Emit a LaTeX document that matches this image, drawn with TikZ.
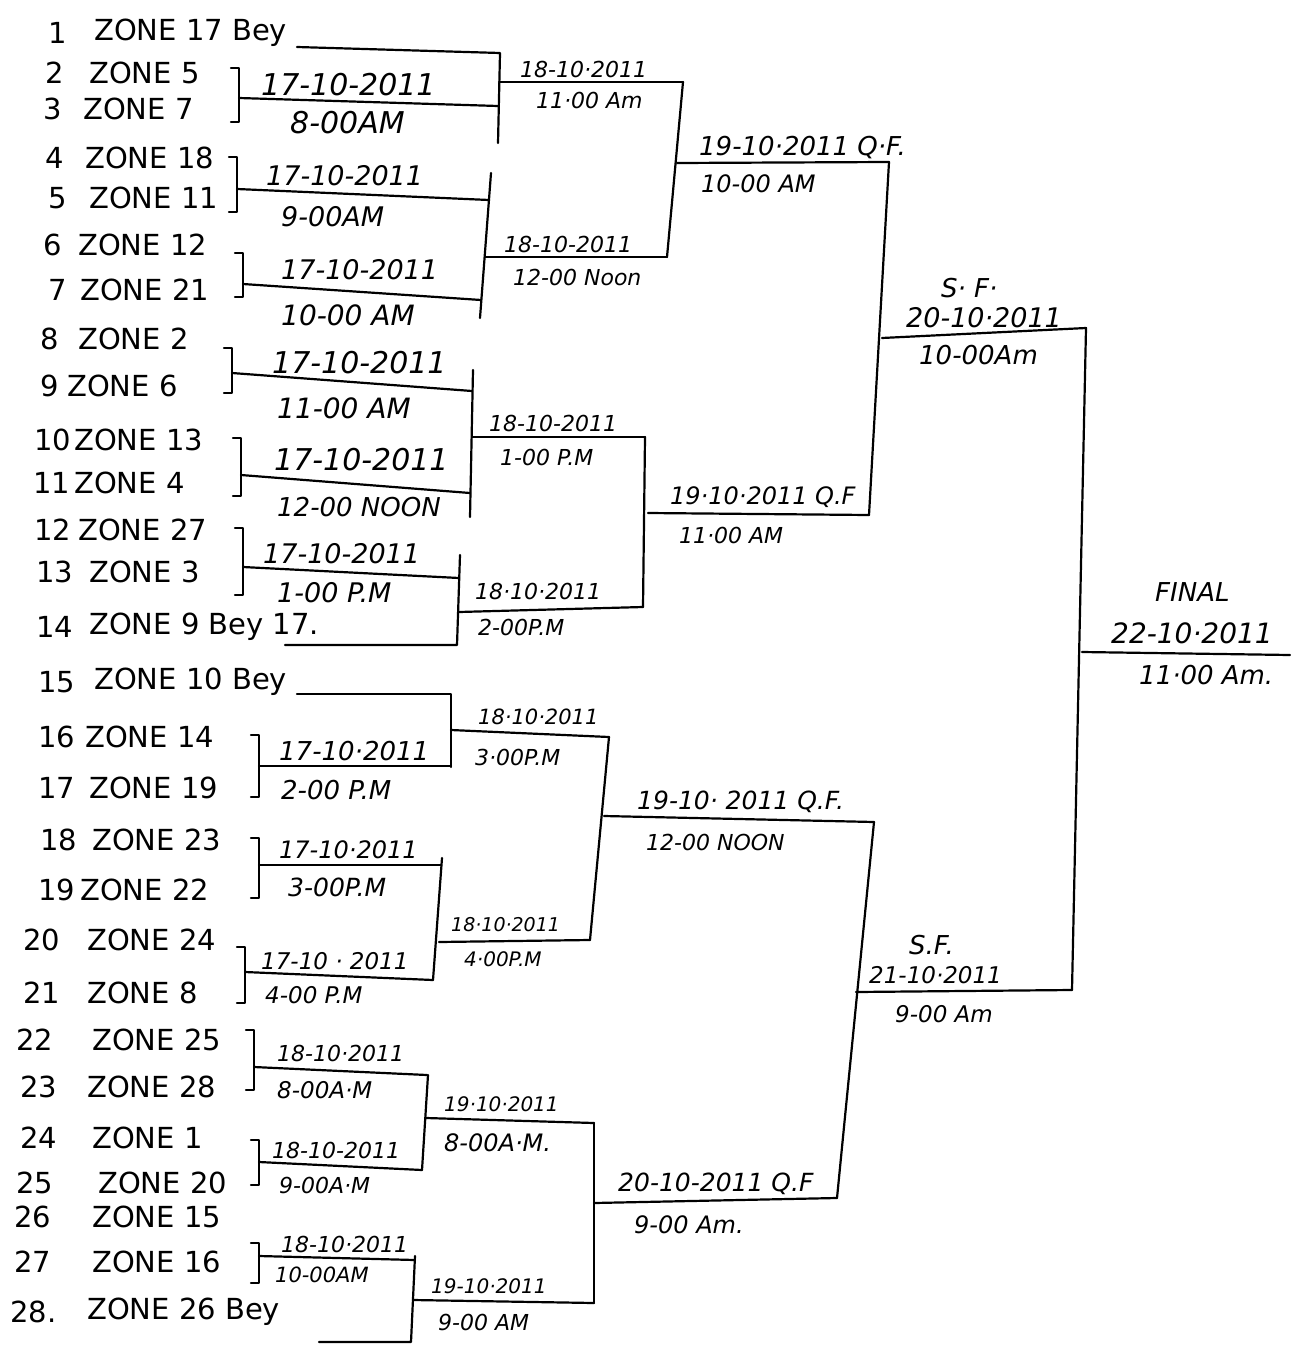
\documentclass[tikz,border=0pt]{standalone}
\usepackage{fontspec}
\setmainfont{DejaVu Sans}
\tikzset{
  ln/.style={line width=2.2pt, line cap=round, line join=round},
  zone/.style={anchor=west, inner sep=0pt, font=\fontsize{29}{31}\selectfont},
  num/.style={anchor=west, inner sep=0pt, font=\fontsize{29}{31}\selectfont},
  lbl/.style={anchor=west, inner sep=0pt, font=\fontsize{#1}{#1}\selectfont\itshape},
}
\begin{document}
\begin{tikzpicture}[x=1pt,y=-1pt]
\useasboundingbox (0,0) rectangle (1290,1346);
\fill[white] (0,0) rectangle (1290,1346);

% entries
\foreach \i/\nx/\zx/\y/\t in {
 1/48/94/33/{ZONE 17 Bey}, 2/45/89/73/{ZONE 5}, 3/43/83/109/{ZONE 7},
 4/45/85/158/{ZONE 18}, 5/48/89/198/{ZONE 11}, 6/43/78/245/{ZONE 12},
 7/48/80/290/{ZONE 21}, 8/40/78/339/{ZONE 2}, 9/40/67/386/{ZONE 6},
 10/34/74/440/{ZONE 13}, 11/33/74/483/{ZONE 4}, 12/34/78/530/{ZONE 27},
 13/36/89/572/{ZONE 3}, 14/36/89/627/{ZONE 9 Bey 17.}, 15/38/94/682/{ZONE 10 Bey},
 16/38/85/737/{ZONE 14}, 17/38/89/788/{ZONE 19}, 18/40/92/840/{ZONE 23},
 19/38/80/890/{ZONE 22}, 20/23/87/940/{ZONE 24}, 21/23/87/993/{ZONE 8},
 22/16/92/1040/{ZONE 25}, 23/20/87/1087/{ZONE 28}, 24/20/92/1138/{ZONE 1},
 25/16/98/1183/{ZONE 20}, 26/14/92/1217/{ZONE 15}, 27/14/92/1262/{ZONE 16}}{
  \node[num] (n\i) at (\nx,\y) {\i};
  \node[zone] (z\i) at (\zx,\y) {\t};
}
\node[num] (n28) at (10,1312) {28.};
\node[zone] (z28) at (87,1312) {ZONE 26 Bey};

% ---------- coordinates ----------
% quarter 1
\coordinate (by1) at (297,47);
\coordinate (ra-t) at (500,53); \coordinate (ra-b) at (498,143);
\coordinate (ma-t) at (239,68); \coordinate (ma-b) at (239,122); \coordinate (ma-m) at (239,98); \coordinate (ma-e) at (498,106);
\coordinate (ra-m) at (499,82); \coordinate (ra-e) at (683,82);
\coordinate (rb-t) at (491,173); \coordinate (rb-b) at (480,318);
\coordinate (mb-t) at (237,157); \coordinate (mb-b) at (237,212); \coordinate (mb-m) at (237,189); \coordinate (mb-e) at (489,200);
\coordinate (mc-t) at (243,253); \coordinate (mc-b) at (243,297); \coordinate (mc-m) at (243,284); \coordinate (mc-e) at (481,300);
\coordinate (rb-m) at (485,257); \coordinate (rb-e) at (667,257);
\coordinate (qa-m) at (677,163); \coordinate (qa-e) at (889,162);
% quarter 2
\coordinate (rc-t) at (473,370); \coordinate (rc-b) at (470,517);
\coordinate (md-t) at (232,348); \coordinate (md-b) at (232,393); \coordinate (md-m) at (232,373); \coordinate (md-e) at (472,391);
\coordinate (me-t) at (241,438); \coordinate (me-b) at (241,496); \coordinate (me-m) at (241,475); \coordinate (me-e) at (470,493);
\coordinate (rc-m) at (472,437); \coordinate (rc-e) at (645,437);
\coordinate (rd-t) at (460,555); \coordinate (rd-b) at (457,645);
\coordinate (mf-t) at (243,528); \coordinate (mf-b) at (243,595); \coordinate (mf-m) at (243,567); \coordinate (mf-e) at (459,578);
\coordinate (by14) at (285,645);
\coordinate (rd-m) at (459,612); \coordinate (rd-e) at (643,607);
\coordinate (qb-m) at (648,513); \coordinate (qb-e) at (869,515);
\coordinate (sa-m) at (882,338); \coordinate (sa-e) at (1086,328);
\coordinate (fi-b) at (1072,990); \coordinate (fi-m) at (1082,652); \coordinate (fi-e) at (1290,655);
% quarter 3
\coordinate (by15) at (297,694);
\coordinate (re-t) at (451,694); \coordinate (re-b) at (451,767);
\coordinate (mg-t) at (259,735); \coordinate (mg-b) at (259,797); \coordinate (mg-m) at (259,766); \coordinate (mg-e) at (451,766);
\coordinate (re-m) at (451,730); \coordinate (re-e) at (609,737);
\coordinate (rf-t) at (442,858); \coordinate (rf-b) at (433,980);
\coordinate (mh-t) at (259,838); \coordinate (mh-b) at (259,898); \coordinate (mh-m) at (259,865); \coordinate (mh-e) at (441,865);
\coordinate (mi-t) at (245,947); \coordinate (mi-b) at (245,1003); \coordinate (mi-m) at (245,972); \coordinate (mi-e) at (433,980);
\coordinate (rf-m) at (439,942); \coordinate (rf-e) at (590,940);
\coordinate (qc-m) at (604,816); \coordinate (qc-e) at (874,822);
\coordinate (sb-m) at (856,992); \coordinate (sb-e) at (1072,990);
% quarter 4
\coordinate (rg-t) at (428,1075); \coordinate (rg-b) at (422,1170);
\coordinate (mj-t) at (254,1030); \coordinate (mj-b) at (254,1090); \coordinate (mj-m) at (254,1067); \coordinate (mj-e) at (427,1075);
\coordinate (mk-t) at (259,1140); \coordinate (mk-b) at (259,1185); \coordinate (mk-m) at (259,1162); \coordinate (mk-e) at (422,1170);
\coordinate (rg-m) at (426,1118); \coordinate (rg-e) at (594,1123);
\coordinate (rh-t) at (415,1256); \coordinate (rh-b) at (411,1342);
\coordinate (ml-t) at (259,1243); \coordinate (ml-b) at (259,1283); \coordinate (ml-m) at (259,1256); \coordinate (ml-e) at (415,1260);
\coordinate (by28) at (319,1342);
\coordinate (rh-m) at (413,1300); \coordinate (rh-e) at (594,1303);
\coordinate (qd-m) at (594,1203); \coordinate (qd-e) at (837,1198);

% ---------- lines ----------
\foreach \m in {ma,mb,mc,md,me,mf,mg,mh,mi,mj,mk,ml}{
  \draw[ln] ([xshift=-8pt]\m-t) -- (\m-t) -- (\m-b) -- ([xshift=-8pt]\m-b);
  \draw[ln] (\m-m) -- (\m-e);
}
\draw[ln] (by1) -- (ra-t) -- (ra-b);
\draw[ln] (ra-m) -- (ra-e);
\draw[ln] (rb-t) -- (rb-b);
\draw[ln] (rb-m) -- (rb-e);
\draw[ln] (ra-e) -- (rb-e);
\draw[ln] (qa-m) -- (qa-e);
\draw[ln] (rc-t) -- (rc-b);
\draw[ln] (rc-m) -- (rc-e);
\draw[ln] (by14) -- (rd-b) -- (rd-t);
\draw[ln] (rd-m) -- (rd-e);
\draw[ln] (rc-e) -- (rd-e);
\draw[ln] (qb-m) -- (qb-e);
\draw[ln] (qa-e) -- (qb-e);
\draw[ln] (sa-m) -- (sa-e) -- (fi-b);
\draw[ln] (fi-m) -- (fi-e);
\draw[ln] (by15) -- (re-t) -- (re-b);
\draw[ln] (re-m) -- (re-e);
\draw[ln] (rf-t) -- (rf-b);
\draw[ln] (rf-m) -- (rf-e);
\draw[ln] (re-e) -- (rf-e);
\draw[ln] (qc-m) -- (qc-e);
\draw[ln] (qc-e) -- (qd-e);
\draw[ln] (sb-m) -- (sb-e);
\draw[ln] (rg-t) -- (rg-b);
\draw[ln] (rg-m) -- (rg-e);
\draw[ln] (by28) -- (rh-b) -- (rh-t);
\draw[ln] (rh-m) -- (rh-e);
\draw[ln] (rg-e) -- (rh-e);
\draw[ln] (qd-m) -- (qd-e);

% ---------- labels ----------
\foreach \nm/\x/\y/\s/\t in {
 la1/261/85/30/17-10-2011, la2/290/123/30/8-00AM,
 lb1/266/176/27/17-10-2011, lb2/281/217/27/9-00AM,
 lc1/281/270/27/17-10-2011, lc2/281/315/28/{10-00 AM},
 ld1/272/363/30/17-10-2011, ld2/277/408/28/{11-00 AM},
 le1/274/460/30/17-10-2011, le2/277/507/26/{12-00 NOON},
 lf1/263/554/27/17-10-2011, lf2/277/593/27/{1-00 P.M},
 ra1/520/69/22/18-10·2011, ra2/536/100/22/{11·00 Am},
 rb1/504/244/22/18-10-2011, rb2/513/277/22/{12-00 Noon},
 rc1/489/423/22/18-10-2011, rc2/500/457/22/{1-00 P.M},
 rd1/475/591/22/18·10·2011, rd2/478/627/22/2-00P.M,
 qa1/699/148/26/{19-10·2011 Q·F.}, qa2/701/184/24/{10-00 AM},
 qb1/670/497/24/{19·10·2011 Q.F}, qb2/679/535/22/{11·00 AM},
 sa0/941/288/26/{S· F·}, sa1/906/318/27/20-10·2011, sa2/919/355/26/10-00Am,
 fi0/1155/592/26/FINAL, fi1/1111/633/28/22-10·2011, fi2/1139/675/26/{11·00 Am.},
 lg1/279/751/26/17-10·2011, lg2/281/790/26/{2-00 P.M},
 lh1/279/850/24/17-10·2011, lh2/288/887/25/3-00P.M,
 li1/261/961/23/{17-10 · 2011}, li2/265/995/23/{4-00 P.M},
 re1/478/717/21/18·10·2011, re2/475/757/22/3·00P.M,
 rf1/451/925/19/18·10·2011, rf2/464/959/20/4·00P.M,
 qc1/637/802/25/{19-10· 2011 Q.F.}, qc2/646/842/22/{12-00 NOON},
 sb0/909/945/26/{S.F.}, sb1/869/975/23/21-10·2011, sb2/895/1014/23/{9-00 Am},
 lj1/277/1053/22/18-10·2011, lj2/277/1090/23/8-00A·M,
 lk1/272/1150/22/18-10-2011, lk2/279/1185/22/9-00A·M,
 rg1/444/1104/20/19·10·2011, rg2/444/1143/24/8-00A·M.,
 ll1/281/1244/22/18-10·2011, ll2/275/1275/21/10-00AM,
 rh1/431/1286/20/19-10·2011, rh2/438/1322/22/{9-00 AM},
 qd1/618/1184/25/{20-10-2011 Q.F}, qd2/634/1225/24/{9-00 Am.}}{
  \node[lbl=\s] (\nm) at (\x,\y) {\t};
}
\end{tikzpicture}
\end{document}
